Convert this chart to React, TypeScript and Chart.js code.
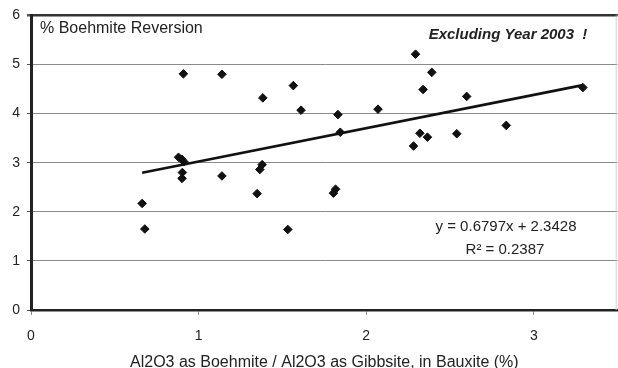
import React, { useEffect, useRef } from 'react';
import { Chart, registerables } from 'chart.js';

Chart.register(...registerables);

// ---- data ----
const xValues = [
  0.88, 0.9, 0.912, 0.903, 0.901, 0.663, 0.679, 1.379, 1.365, 1.349, 1.817,
  1.804, 1.532, 2.294, 2.391, 2.339, 2.599, 2.835, 2.54, 2.32, 2.365, 2.282,
  0.909, 1.139, 1.383, 1.565, 1.611, 1.139, 1.831, 1.845, 2.07, 3.292,
];
const yValues = [
  3.11, 3.07, 3.02, 2.8, 2.68, 2.17, 1.65, 2.96, 2.86, 2.37, 2.46,
  2.38, 1.64, 5.21, 4.84, 4.49, 4.35, 3.76, 3.59, 3.6, 3.52, 3.34,
  4.81, 4.8, 4.32, 4.57, 4.07, 2.73, 3.98, 3.62, 4.09, 4.53,
];
const trendSlope = 0.6797;
const trendIntercept = 2.3428;
const rSquared = 0.2387;
const xTicks = [0, 1, 2, 3];
const yTicks = [0, 1, 2, 3, 4, 5, 6];
const xMin = 0;
const xMax = 3.5;
const yMin = 0;
const yMax = 6;
const yAxisLabel = '% Boehmite Reversion';
const xAxisLabel = 'Al2O3 as Boehmite / Al2O3 as Gibbsite, in Bauxite (%)';
const noteLabel = 'Excluding Year 2003  !';

const FONT = '"Liberation Sans", Arial, Helvetica, sans-serif';
const TEXT = '#222222';

const textPlugin = {
  id: 'overlayTexts',
  afterDraw(chart: any) {
    const { ctx, chartArea: a } = chart;
    ctx.save();
    ctx.fillStyle = TEXT;
    ctx.textBaseline = 'middle';
    ctx.textAlign = 'left';
    ctx.font = `16px ${FONT}`;
    ctx.fillText(yAxisLabel, a.left + 9, a.top + 13);

    ctx.textAlign = 'center';
    ctx.font = `italic bold 15px ${FONT}`;
    ctx.fillText(noteLabel, a.left + 477, a.top + 19);

    ctx.font = `15px ${FONT}`;
    ctx.fillText(`y = ${trendSlope}x + ${trendIntercept}`, a.left + 475, a.top + 211);
    ctx.fillText(`R\u00B2 = ${rSquared}`, a.left + 474, a.top + 234);

    // faint right edge of the plot area
    ctx.strokeStyle = '#d0d0d0';
    ctx.lineWidth = 1;
    ctx.beginPath();
    ctx.moveTo(a.right - 1.5, a.top);
    ctx.lineTo(a.right - 1.5, a.bottom);
    ctx.stroke();
    ctx.restore();
  },
};

export default function App() {
  const canvasRef = useRef<HTMLCanvasElement | null>(null);

  useEffect(() => {
    const canvas = canvasRef.current;
    if (!canvas) return;
    const points = xValues.map((x, i) => ({ x, y: yValues[i] }));
    const tx0 = Math.min(...xValues);
    const tx1 = Math.max(...xValues);
    const trend = [
      { x: tx0, y: trendSlope * tx0 + trendIntercept },
      { x: tx1, y: trendSlope * tx1 + trendIntercept },
    ];

    const chart = new Chart(canvas, {
      type: 'scatter',
      data: {
        datasets: [
          {
            label: 'trend',
            data: trend,
            showLine: true,
            borderColor: '#111111',
            borderWidth: 2.6,
            pointRadius: 0,
            order: 2,
          },
          {
            label: 'points',
            data: points,
            pointStyle: 'rectRot',
            pointRadius: 4.3,
            pointBackgroundColor: '#111111',
            pointBorderColor: '#111111',
            pointBorderWidth: 1,
            order: 1,
          },
        ],
      },
      options: {
        responsive: false,
        animation: false,
        devicePixelRatio: 1,
        layout: { padding: { left: 0, right: 0, top: 15, bottom: 0 } },
        plugins: {
          legend: { display: false },
          tooltip: { enabled: false },
        },
        scales: {
          x: {
            type: 'linear',
            min: xMin,
            max: xMax,
            afterBuildTicks: (scale: any) => {
              scale.ticks = xTicks.map((v) => ({ value: v }));
            },
            afterFit: (scale: any) => {
              scale.height = 58;
            },
            grid: {
              drawOnChartArea: false,
              drawTicks: true,
              tickLength: 5,
              tickColor: '#8a8a8a',
              color: '#8a8a8a',
            },
            border: { display: true, color: '#222222', width: 2.5 },
            ticks: {
              font: { family: FONT, size: 14 },
              color: TEXT,
              padding: 13,
              maxRotation: 0,
            },
            title: {
              display: true,
              text: xAxisLabel,
              font: { family: FONT, size: 16, lineHeight: 1 },
              color: TEXT,
              padding: { top: 0, bottom: -3 },
            },
          },
          y: {
            type: 'linear',
            min: yMin,
            max: yMax,
            afterBuildTicks: (scale: any) => {
              scale.ticks = yTicks.map((v) => ({ value: v }));
            },
            afterFit: (scale: any) => {
              scale.width = 31;
            },
            grid: {
              drawTicks: true,
              tickLength: 4,
              tickColor: '#555555',
              color: (c: any) => (c.tick && c.tick.value === yMax ? '#333333' : '#8a8a8a'),
              lineWidth: (c: any) => (c.tick && c.tick.value === yMax ? 2.5 : 1),
            },
            border: { display: true, color: '#222222', width: 3 },
            ticks: {
              font: { family: FONT, size: 14 },
              color: TEXT,
              padding: 7,
            },
          },
        },
      },
      plugins: [textPlugin],
    });
    return () => chart.destroy();
  }, []);

  return (
    <div
      style={{
        position: 'fixed',
        left: 0,
        top: 0,
        width: 618,
        height: 368,
        overflow: 'hidden',
        background: '#fff',
      }}
    >
      <canvas ref={canvasRef} width={623} height={368} style={{ display: 'block' }} />
    </div>
  );
}
